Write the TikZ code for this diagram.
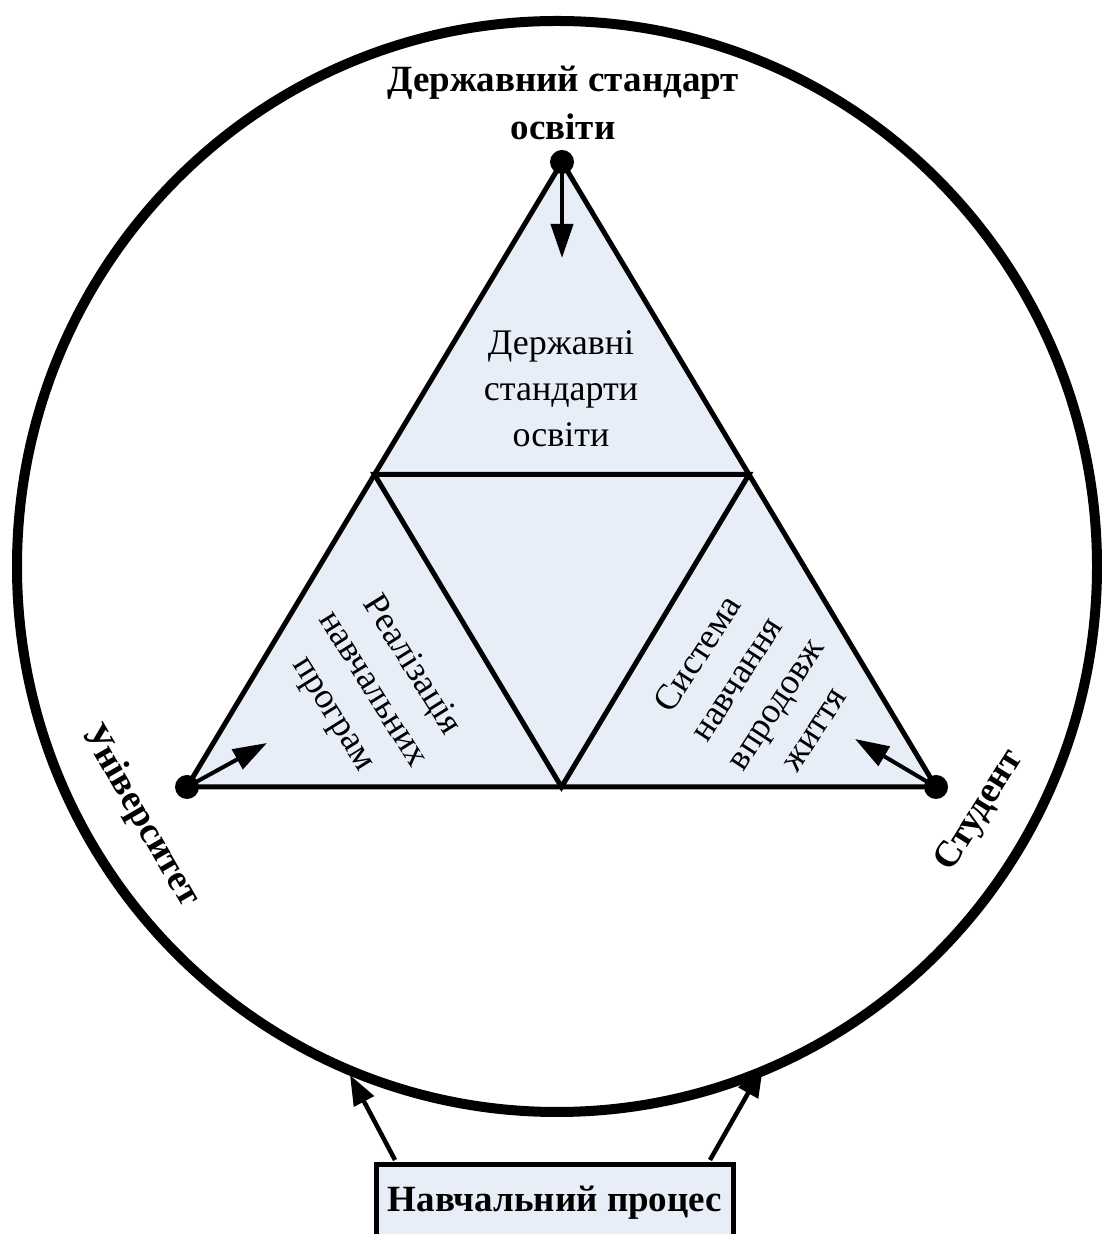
\documentclass[tikz,border=0pt]{standalone}
\usepackage{fontspec}
\setmainfont{Liberation Serif}
\usetikzlibrary{arrows.meta,calc}
\definecolor{lightfill}{HTML}{E8EEF8}
\begin{document}
\begin{tikzpicture}[x=1pt,y=1pt,
  txt/.style={font=\fontsize{36}{46}\selectfont, align=center, inner sep=0pt},
  btxt/.style={font=\fontsize{37}{48}\selectfont\bfseries, align=center, inner sep=0pt},
  arr/.style={line width=4pt, -{Triangle[length=34pt,width=22pt]}},
  arrs/.style={line width=4.5pt, -{Triangle[length=30pt,width=22pt]}},
  edgeline/.style={line width=5pt, line join=miter},
  dot/.style={circle, fill=black, inner sep=0pt, minimum size=24pt},
  procbox/.style={draw, line width=5pt, fill=lightfill, inner sep=0pt},
]
\useasboundingbox (0,0) rectangle (1102,1234);

% outer circle
\draw[line width=10pt] (557,667.5) ellipse [x radius=540pt, y radius=545.5pt];

% triangle
\coordinate (T) at (562,1072);
\coordinate (L) at (187,447);
\coordinate (R) at (936,447);
\coordinate (ML) at ($(T)!0.5!(L)$);
\coordinate (MR) at ($(T)!0.5!(R)$);
\coordinate (MB) at ($(L)!0.5!(R)$);
\filldraw[edgeline, fill=lightfill] (T) -- (L) -- (R) -- cycle;
\draw[edgeline] (ML) -- (MR) -- (MB) -- cycle;

% vertex dots
\node[dot] (dT) at (T) {};
\node[dot] (dL) at (L) {};
\node[dot] (dR) at (R) {};

% arrows from vertices
\coordinate (aT) at (562,976);
\coordinate (aL) at (267,491);
\coordinate (aR) at (855,495);
\draw[arr] (dT.center) -- (aT);
\draw[arr] (dL.center) -- (aL);
\draw[arr] (dR.center) -- (aR);

% inner texts
\node[txt] (tTop) at (561,845) {Державні\\стандарти\\освіти};
\node[txt, rotate=-58] (tLeft) at (372,544) {Реалізація\\навчальних\\програм};
\node[txt, rotate=57] (tRight) at (755,543) {Система\\навчання\\впродовж\\життя};

% outer labels
\node[btxt] (std) at (563,1131) {Державний стандарт\\освіти};
\node[btxt, rotate=-60] (univ) at (140,418) {Університет};
\node[btxt, rotate=58] (stud) at (980,423) {Студент};

% process box
\node[procbox, minimum width=357pt, minimum height=100pt, anchor=north] (proc) at (554.5,72) {};
\node[btxt, anchor=base] (proctxt) at (555,22) {Навчальний процес};

\coordinate (p1) at (395,74);
\coordinate (p2) at (710,74);
\coordinate (c1) at (350,159);
\coordinate (c2) at (763,167);
\draw[arrs] (p1) -- (c1);
\draw[arrs] (p2) -- (c2);
\end{tikzpicture}
\end{document}
